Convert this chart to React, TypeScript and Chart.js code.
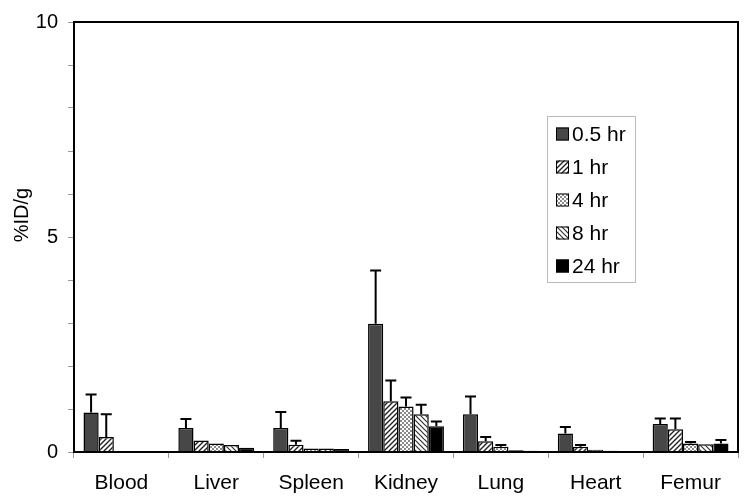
import React, { useEffect, useRef } from "react";
import { Chart, registerables } from "chart.js";

Chart.register(...registerables);

const categories = ["Blood", "Liver", "Spleen", "Kidney", "Lung", "Heart", "Femur"];
const seriesLabels = ["0.5 hr", "1 hr", "4 hr", "8 hr", "24 hr"];
const values05 = [0.92, 0.56, 0.56, 2.98, 0.88, 0.43, 0.65];
const values1 = [0.35, 0.27, 0.17, 1.18, 0.25, 0.12, 0.53];
const values4 = [0.02, 0.2, 0.08, 1.06, 0.12, 0.05, 0.2];
const values8 = [0.01, 0.16, 0.08, 0.88, 0.04, 0.03, 0.18];
const values24 = [0.01, 0.1, 0.07, 0.6, 0.03, 0.02, 0.2];
const err05 = [0.42, 0.21, 0.37, 1.24, 0.41, 0.15, 0.13];
const err1 = [0.53, 0.02, 0.09, 0.48, 0.1, 0.04, 0.25];
const err4 = [0, 0.02, 0.02, 0.21, 0.04, 0.01, 0.03];
const err8 = [0, 0.02, 0.02, 0.22, 0.01, 0.01, 0.02];
const err24 = [0, 0.01, 0.02, 0.11, 0.01, 0.01, 0.08];
const yTickLabels = ["0", "5", "10"];
const yTitle = "%ID/g";

const FONT = "'Liberation Sans', Arial, sans-serif";

function makePattern(kind: string): CanvasPattern | string {
  const c = document.createElement("canvas");
  const s = kind === "check" ? 4 : 5;
  c.width = s;
  c.height = s;
  const g = c.getContext("2d")!;
  g.fillStyle = "#ffffff";
  g.fillRect(0, 0, s, s);
  if (kind === "fwd" || kind === "back") {
    g.strokeStyle = kind === "fwd" ? "#222" : "#333";
    g.lineWidth = kind === "fwd" ? 1.4 : 1.2;
    g.beginPath();
    if (kind === "fwd") {
      g.moveTo(0, s); g.lineTo(s, 0);
      g.moveTo(-1, 1); g.lineTo(1, -1);
      g.moveTo(s - 1, s + 1); g.lineTo(s + 1, s - 1);
    } else {
      g.moveTo(0, 0); g.lineTo(s, s);
      g.moveTo(-1, s - 1); g.lineTo(1, s + 1);
      g.moveTo(s - 1, -1); g.lineTo(s + 1, 1);
    }
    g.stroke();
  } else if (kind === "check") {
    g.fillStyle = "#8a8a8a";
    g.fillRect(0, 0, 2, 2);
    g.fillRect(2, 2, 2, 2);
  }
  return g.createPattern(c, "repeat")!;
}

const errorBarPlugin = {
  id: "errorBars",
  afterDatasetsDraw(chart: any) {
    const ctx = chart.ctx;
    const y = chart.scales.y;
    ctx.save();
    ctx.strokeStyle = "#000";
    ctx.lineWidth = 2;
    chart.data.datasets.forEach((ds: any, di: number) => {
      const meta = chart.getDatasetMeta(di);
      meta.data.forEach((bar: any, i: number) => {
        const e = ds.errors[i];
        if (!e) return;
        const top = y.getPixelForValue(ds.data[i] + e);
        if (Math.abs(top - bar.y) < 1) return;
        ctx.beginPath();
        ctx.moveTo(bar.x, bar.y);
        ctx.lineTo(bar.x, top);
        ctx.moveTo(bar.x - 5.5, top);
        ctx.lineTo(bar.x + 5.5, top);
        ctx.stroke();
      });
    });
    ctx.restore();
  },
};

const framePlugin = {
  id: "frame",
  afterDraw(chart: any) {
    const { ctx, chartArea: a } = chart;
    ctx.save();
    ctx.strokeStyle = "#000";
    ctx.lineWidth = 2;
    ctx.strokeRect(a.left, a.top, a.right - a.left, a.bottom - a.top);
    // y-axis title
    ctx.fillStyle = "#000";
    ctx.font = `20px ${FONT}`;
    ctx.textAlign = "center";
    ctx.textBaseline = "middle";
    ctx.translate(22, (a.top + a.bottom) / 2 - 22);
    ctx.rotate(-Math.PI / 2);
    ctx.fillText(yTitle, 0, 0);
    ctx.restore();
  },
};

const legendPlugin = {
  id: "boxLegend",
  afterDraw(chart: any) {
    const ctx = chart.ctx;
    const x0 = 547, y0 = 116, w = 88, h = 166;
    ctx.save();
    ctx.fillStyle = "#fff";
    ctx.fillRect(x0, y0, w, h);
    ctx.strokeStyle = "#bbb";
    ctx.lineWidth = 1;
    ctx.strokeRect(x0 + 0.5, y0 + 0.5, w, h);
    ctx.font = `21px ${FONT}`;
    ctx.textBaseline = "middle";
    chart.data.datasets.forEach((ds: any, i: number) => {
      const cy = y0 + 18 + i * 33;
      ctx.fillStyle = ds.backgroundColor;
      ctx.fillRect(556, cy - 6.5, 13, 13);
      ctx.strokeStyle = "#000";
      ctx.lineWidth = 1;
      ctx.strokeRect(556.5, cy - 6, 12, 12);
      ctx.fillStyle = "#000";
      ctx.fillText(ds.label, 572, cy + 1);
    });
    ctx.restore();
  },
};

export default function App() {
  const ref = useRef<HTMLCanvasElement>(null);
  useEffect(() => {
    const fills = [
      "#474747",
      makePattern("fwd"),
      makePattern("check"),
      makePattern("back"),
      "#000000",
    ];
    const vals = [values05, values1, values4, values8, values24];
    const errs = [err05, err1, err4, err8, err24];
    const chart = new Chart(ref.current!, {
      type: "bar",
      data: {
        labels: categories,
        datasets: seriesLabels.map((l, i) => ({
          label: l,
          data: vals[i],
          errors: errs[i],
          backgroundColor: fills[i],
          borderColor: "#000",
          borderWidth: 1.5,
          categoryPercentage: 0.8,
          barPercentage: 1.0,
        })) as any,
      },
      options: {
        animation: false,
        responsive: false,
        devicePixelRatio: 1,
        layout: { padding: { left: 0, top: 18, right: 12, bottom: 0 } },
        plugins: { legend: { display: false }, tooltip: { enabled: false } },
        scales: {
          x: {
            grid: { drawOnChartArea: false, offset: true, tickLength: 6, color: "#999", lineWidth: 1 },
            border: { display: false },
            ticks: { color: "#000", font: { family: FONT, size: 21 }, padding: 13, maxRotation: 0 },
            afterFit: (s: any) => { s.height = 52; },
          },
          y: {
            min: 0,
            max: 10,
            grid: { drawOnChartArea: false, tickLength: 6, color: "#999" },
            border: { display: false },
            ticks: {
              stepSize: 1,
              color: "#000",
              padding: 10,
              font: { family: FONT, size: 20 },
              callback: (v: any) => {
                const s = String(v);
                return yTickLabels.includes(s) ? s : "";
              },
            },
            afterFit: (s: any) => { s.width = 74; },
          },
        },
      },
      plugins: [errorBarPlugin, framePlugin, legendPlugin],
    });
    return () => chart.destroy();
  }, []);
  return (
    <div style={{ position: "fixed", left: 0, top: 0, width: 750, height: 504, background: "#fff" }}>
      <canvas ref={ref} width={750} height={504} />
    </div>
  );
}
